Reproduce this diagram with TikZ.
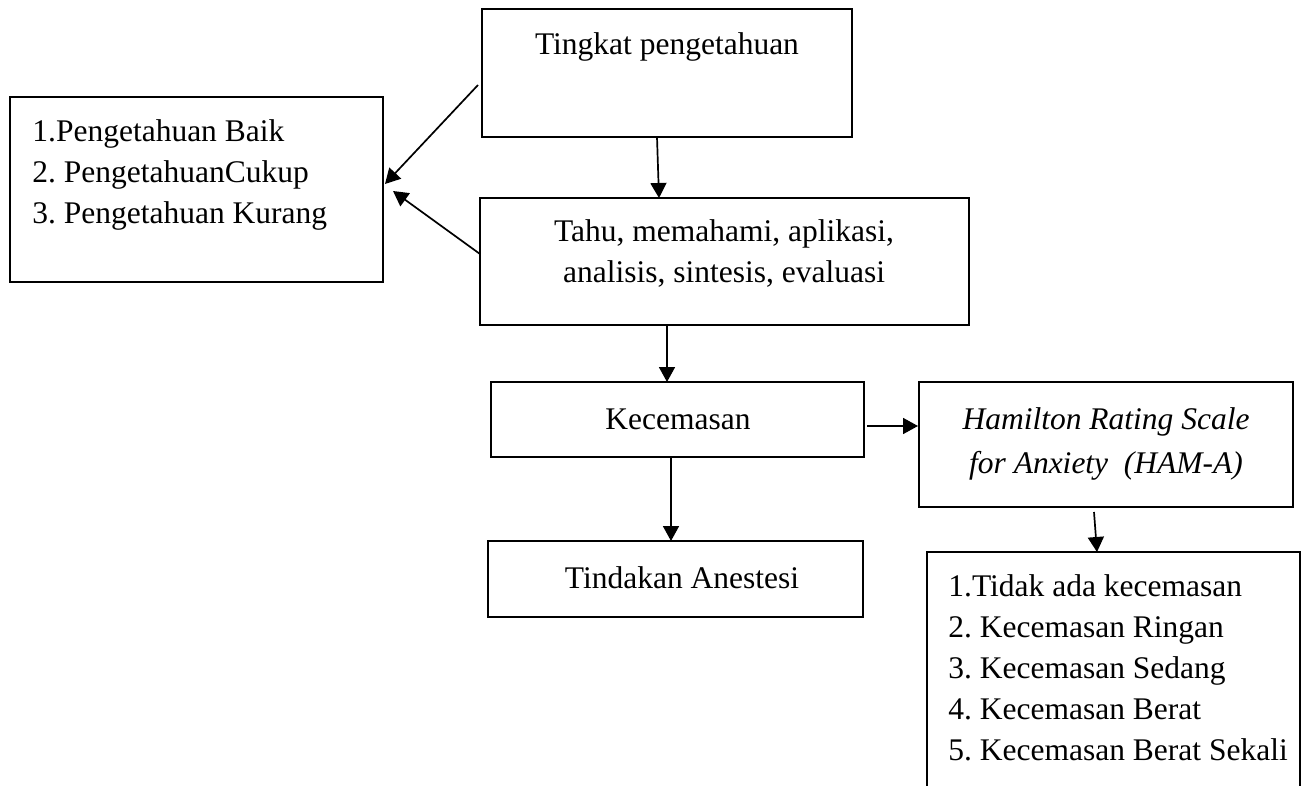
\documentclass[tikz,border=0pt]{standalone}
\usepackage{fontspec}
\setmainfont{Liberation Serif}
\usetikzlibrary{arrows.meta,calc}
\frenchspacing
\begin{document}
\begin{tikzpicture}[x=0.5pt,y=-0.5pt,
  box/.style={draw, line width=0.9pt, inner sep=0pt, outer sep=0pt, anchor=north west},
  frame/.style={inner sep=0pt, outer sep=0pt, anchor=north west},
  lbl/.style={anchor=base, inner sep=0pt, font=\fontsize{15.75pt}{20.5pt}\selectfont},
  lbll/.style={lbl, anchor=base west},
  arr/.style={-{Triangle[length=7.5pt,width=8pt]}, line width=0.85pt}]
\useasboundingbox (0,0) rectangle (1306,786);
\fill[white] (0,0) rectangle (1306,786);
% boxes
\node[box, minimum width=185pt, minimum height=64pt] (A) at (482,9) {};
\node[box, minimum width=186.5pt, minimum height=92.5pt] (B) at (10,97) {};
\node[box, minimum width=244.5pt, minimum height=63.5pt] (C) at (480,198) {};
\node[box, minimum width=186.5pt, minimum height=37.5pt] (D) at (491,382) {};
\node[box, minimum width=187pt, minimum height=62.5pt] (E) at (919,382) {};
\node[box, minimum width=187.5pt, minimum height=38pt] (F) at (488,541) {};
\node[frame, minimum width=186.5pt, minimum height=119pt] (G) at (927,552) {};
\draw[line width=0.9pt] (G.south west) -- (G.north west) -- (G.north east) -- (G.south east);
% texts
\node[lbl] (At) at (667,55) {Tingkat pengetahuan};
\node[lbll] (B1) at (32,142) {1.Pengetahuan Baik};
\node[lbll] (B2) at (32,183) {2. PengetahuanCukup};
\node[lbll] (B3) at (32,224) {3. Pengetahuan Kurang};
\node[lbl] (C1) at (724,242) {Tahu, memahami, aplikasi,};
\node[lbl] (C2) at (724,283) {analisis, sintesis, evaluasi};
\node[lbl] (Dt) at (678,429) {Kecemasan};
\node[lbl] (E1) at (1106,429) {\itshape Hamilton Rating Scale};
\node[lbl] (E2) at (1106,473) {\itshape for Anxiety\ \ (HAM-A)};
\node[lbl] (Ft) at (682,588) {Tindakan Anestesi};
\node[lbll] (G1) at (948,596) {1.Tidak ada kecemasan};
\node[lbll] (G2) at (948,637) {2. Kecemasan Ringan};
\node[lbll] (G3) at (948,678) {3. Kecemasan Sedang};
\node[lbll] (G4) at (948,719) {4. Kecemasan Berat};
\node[lbll] (G5) at (948,760) {5. Kecemasan Berat Sekali};
% connectors
\draw[arr] ($(A.south west)+(175,0)$) -- ($(C.north west)+(179,0)$);
\draw[arr] ($(A.north west)+(-4,76)$) -- ($(B.north east)+(2,87)$);
\draw[arr] ($(C.north west)+(0,56)$) -- ($(B.north east)+(10,94)$);
\draw[arr] ($(C.south west)+(187,0)$) -- ($(D.north west)+(176,0)$);
\draw[arr] ($(D.south west)+(180,0)$) -- ($(F.north west)+(183,0)$);
\draw[arr] ($(D.north east)+(3,44)$) -- ($(E.north west)+(-1,44)$);
\draw[arr] ($(E.south west)+(175,5)$) -- ($(G.north west)+(170,0)$);
\end{tikzpicture}
\end{document}
